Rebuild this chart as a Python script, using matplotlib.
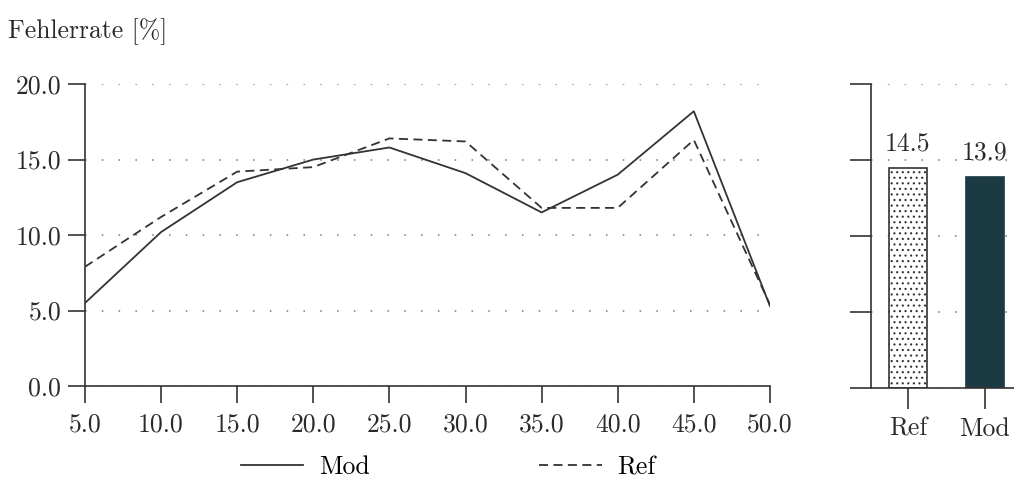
import matplotlib
matplotlib.use("Agg")
import matplotlib.pyplot as plt

# data
x_vals = [5.0, 10.0, 15.0, 20.0, 25.0, 30.0, 35.0, 40.0, 45.0, 50.0]
mod_vals = [5.5, 10.2, 13.5, 15.0, 15.8, 14.1, 11.5, 14.0, 18.2, 5.3]
ref_vals = [7.9, 11.2, 14.2, 14.5, 16.4, 16.2, 11.8, 11.8, 16.3, 5.4]
bar_labels = ["Ref", "Mod"]
bar_vals = [14.5, 13.9]
y_ticks = [0.0, 5.0, 10.0, 15.0, 20.0]

plt.rcParams["font.family"] = ["cmr10", "DejaVu Serif"]
plt.rcParams["axes.formatter.use_mathtext"] = True
plt.rcParams["mathtext.fontset"] = "cm"
plt.rcParams["hatch.linewidth"] = 0.8

LINE = "#333333"
TXT = "#2a2a2a"
FS = 18.5

fig = plt.figure(figsize=(10.14, 4.82), dpi=100)
fig.patch.set_facecolor("white")

# left: line chart
ax = fig.add_axes([0.0838, 0.199, 0.6755, 0.6266])
ax.plot(x_vals, mod_vals, color=LINE, linewidth=1.3, label="Mod")
ax.plot(x_vals, ref_vals, color=LINE, linewidth=1.3, linestyle=(0, (5, 3)), label="Ref")
ax.set_xlim(5, 50)
ax.set_ylim(0, 20)
ax.set_xticks(x_vals)
ax.set_xticklabels([f"{v:.1f}" for v in x_vals])
ax.set_yticks(y_ticks)
ax.set_yticklabels([f"{v:.1f}" for v in y_ticks])
for s in ("top", "right"):
    ax.spines[s].set_visible(False)
for s in ("left", "bottom"):
    ax.spines[s].set_color(LINE)
    ax.spines[s].set_linewidth(1.2)
ax.tick_params(axis="both", direction="out", length=12, width=1.2, color=LINE,
               labelsize=FS, labelcolor=TXT)
ax.tick_params(axis="x", pad=7)
ax.tick_params(axis="y", pad=5)
ax.yaxis.grid(True, linestyle=(0, (1, 10)), color="#777777", linewidth=1.1)
ax.set_axisbelow(True)

# right: mean bars
bx = fig.add_axes([0.859, 0.195, 0.141, 0.6306])
bars = bx.bar([0, 1], bar_vals, width=0.5, color=["white", "#1c3a44"],
              edgecolor=[LINE, "#1c3a44"], linewidth=1.2)
bars[0].set_hatch("...")
bars[0].set_edgecolor(LINE)
for i, v in enumerate(bar_vals):
    bx.text(i, v + 0.8, f"{v:.1f}", ha="center", va="bottom", fontsize=FS, color=TXT)
bx.set_xlim(-0.48, 1.38)
bx.set_ylim(0, 20)
bx.set_xticks([0, 1])
bx.set_xticklabels(bar_labels)
bx.set_yticks(y_ticks)
bx.set_yticklabels([])
for s in ("top", "right"):
    bx.spines[s].set_visible(False)
for s in ("left", "bottom"):
    bx.spines[s].set_color(LINE)
    bx.spines[s].set_linewidth(1.2)
bx.tick_params(axis="both", direction="out", length=15, width=1.2, color=LINE,
               labelsize=FS, labelcolor=TXT, pad=6)
bx.yaxis.grid(True, linestyle=(0, (1, 10)), color="#777777", linewidth=1.1)
bx.set_axisbelow(True)

fig.text(0.008, 0.935, "Fehlerrate [%]", fontsize=FS, color=TXT, va="center")

fig.legend(loc="center", bbox_to_anchor=(0.442, 0.03), ncol=2, frameon=False,
           fontsize=FS, handlelength=2.45, columnspacing=6.6, handletextpad=0.6)

fig.savefig("out.png", dpi=100)
